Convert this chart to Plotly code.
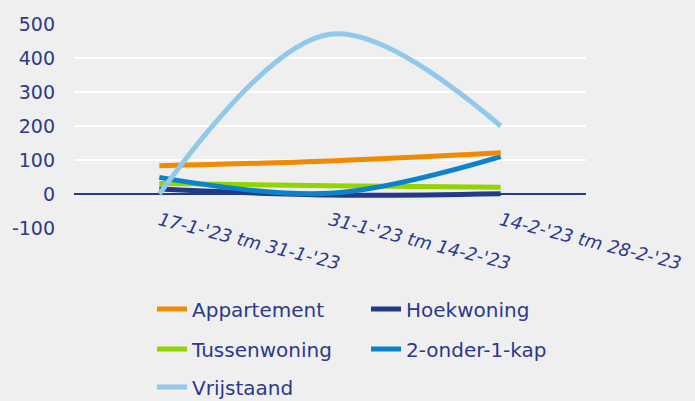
import plotly.graph_objects as go

# Data
periods = ["17-1-'23 tm 31-1-'23", "31-1-'23 tm 14-2-'23", "14-2-'23 tm 28-2-'23"]
appartement = [83, 97, 121]
hoekwoning = [15, -3, 1]
tussenwoning = [31, 24, 20]
twee_onder_een_kap = [49, 2, 110]
vrijstaand = [0, 470, 200]

y_ticks = [-100, 0, 100, 200, 300, 400, 500]
y_ticktext = ["-100", "0", "100", "200", "300", "400", "500"]

# name, values, colour, legend (one legend per legend row)
series = [
    ("Appartement", appartement, "#f08a00", "legend"),
    ("Hoekwoning", hoekwoning, "#233a8a", "legend"),
    ("Tussenwoning", tussenwoning, "#92d400", "legend2"),
    ("2-onder-1-kap", twee_onder_een_kap, "#0a82cc", "legend2"),
    ("Vrijstaand", vrijstaand, "#92c9ea", "legend3"),
]

text_color = "#2b3a8c"
font_family = "DejaVu Sans"

fig = go.Figure()

# Hoekwoning drawn first so the others sit on top like in the reference
order = [1, 2, 3, 0, 4]
for i in order:
    name, values, color, leg = series[i]
    fig.add_trace(
        go.Scatter(
            x=periods,
            y=values,
            name=name,
            mode="lines",
            line=dict(color=color, width=5, shape="spline", smoothing=1.0),
            legend=leg,
            legendrank=i,
        )
    )


def legend_row(y_px):
    return dict(
        orientation="h",
        xref="container",
        yref="container",
        x=152 / 695,
        xanchor="left",
        y=1 - y_px / 401,
        yanchor="middle",
        entrywidth=169,
        entrywidthmode="pixels",
        font=dict(size=20, color=text_color, family=font_family),
        bgcolor="rgba(0,0,0,0)",
        traceorder="normal",
    )


fig.update_layout(
    width=695,
    height=401,
    paper_bgcolor="#efefef",
    plot_bgcolor="#efefef",
    margin=dict(l=74, r=109, t=24, b=173, autoexpand=False),
    font=dict(family=font_family, color=text_color),
    showlegend=True,
    legend=legend_row(309),
    legend2=legend_row(349),
    legend3=legend_row(387),
)

fig.update_xaxes(
    type="category",
    range=[-0.5, 2.5],
    tickangle=14,
    showgrid=False,
    showline=False,
    ticks="",
    automargin=False,
    ticklabelstandoff=-22,
    tickfont=dict(size=18, color=text_color, family=font_family, style="italic"),
)

fig.update_yaxes(
    range=[-100, 500],
    tickvals=y_ticks,
    ticktext=y_ticktext,
    showgrid=True,
    gridcolor="white",
    gridwidth=2,
    zeroline=True,
    zerolinecolor="#233a8a",
    zerolinewidth=1.5,
    showline=False,
    ticks="",
    automargin=False,
    ticklabelstandoff=18,
    tickfont=dict(size=19, color=text_color, family=font_family),
)

fig.write_html(
    "out.html",
    config={"displayModeBar": False},
    post_script="document.body.style.margin='0';document.body.style.background='#efefef';",
)
